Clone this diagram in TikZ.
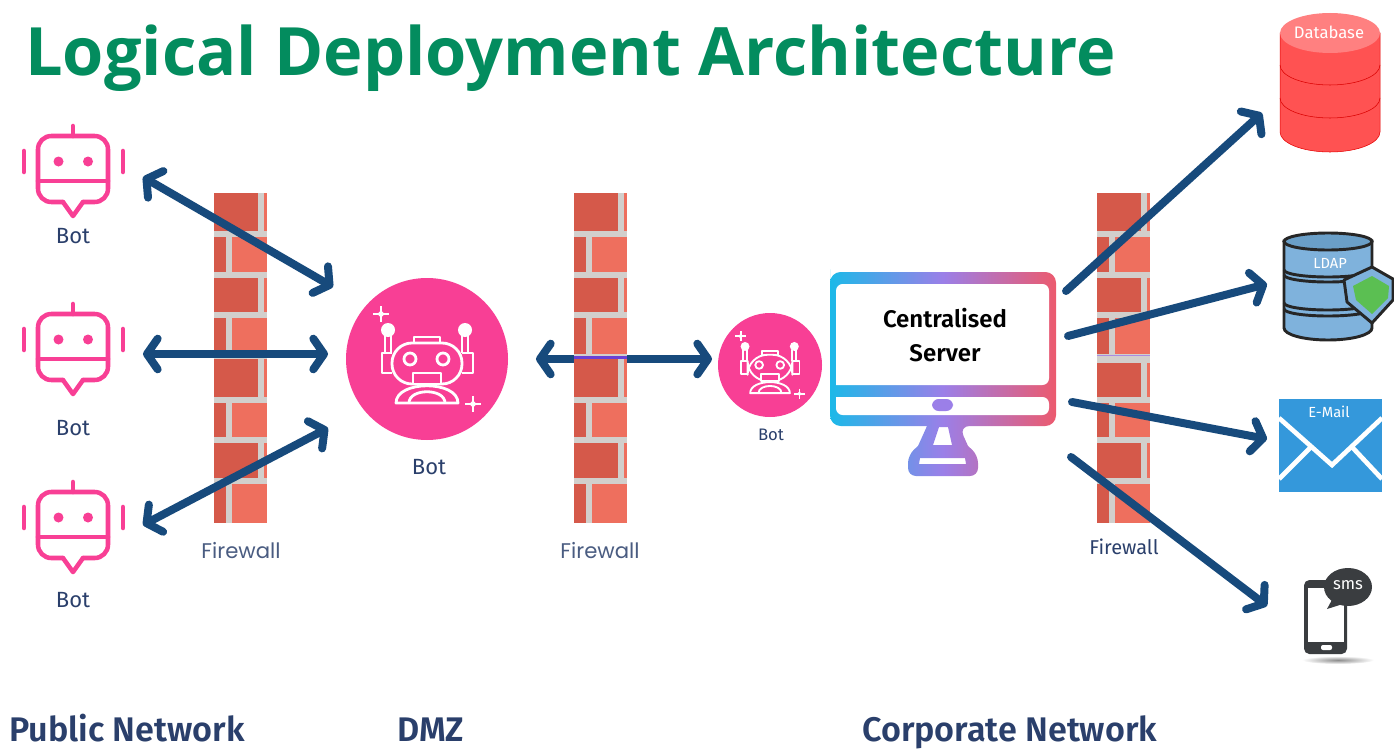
\documentclass[tikz,border=0pt]{standalone}
\usepackage{fontspec}
\usepackage{xcolor}
\usetikzlibrary{arrows.meta}
\setmainfont{Fira Sans}[BoldFont={Fira Sans SemiBold}]
\newfontfamily\titlefont{Open Sans}
\newfontfamily\wallfont{Poppins}

\definecolor{titlegreen}{HTML}{038C5E}
\definecolor{botpink}{HTML}{F83F95}
\definecolor{arrowblue}{HTML}{174A7C}
\definecolor{labelblue}{HTML}{2A3F6B}
\definecolor{wallgrey}{HTML}{D2CFCC}
\definecolor{brickdark}{HTML}{D5594A}
\definecolor{bricklight}{HTML}{EE6F5E}
\definecolor{screencyan}{HTML}{1CB9E8}
\definecolor{screenviolet}{HTML}{9B7FE8}
\definecolor{screenred}{HTML}{EC5A6E}
\definecolor{ldapblue}{HTML}{7FB2DC}
\definecolor{ldaptop}{HTML}{6A9FC8}
\definecolor{shieldgreen}{HTML}{5BBF52}
\definecolor{mailblue}{HTML}{3498DB}
\definecolor{smsgrey}{HTML}{3A3D40}

\tikzset{
    linkarrow/.style={line width=6pt, draw=arrowblue, line cap=round,
        arrows={-Straight Barb[length=8pt,width=23pt,round]}},
    bothlink/.style={linkarrow,
        arrows={Straight Barb[length=8pt,width=23pt,round]-Straight Barb[length=8pt,width=23pt,round]}},
    botline/.style={draw=botpink, line width=3.4pt, line cap=round, line join=round},
    botlabel/.style={text=labelblue, font=\fontsize{16.5}{18}\selectfont},
    walllabel/.style={text=labelblue!85, font=\wallfont\fontsize{15.9}{18}\selectfont},
    zonelabel/.style={text=labelblue, anchor=base west, inner sep=0pt, font=\bfseries\fontsize{25.6}{28}\selectfont},
    iconlabel/.style={text=white, font=\fontsize{11}{13}\selectfont}
}

% brick wall, #1 = left edge
\newcommand{\brickwall}[1]{
    \begin{scope}[shift={(#1,0)}]
        \fill[wallgrey] (0,193) rectangle (53,523);
        \foreach \rowa/\rowb in {193/231,278/312,359/397,443/478}{
            \fill[brickdark] (0,\rowa) rectangle (44,\rowb);
            \fill[bricklight] (50,\rowa) rectangle (53,\rowb);
        }
        \foreach \rowa/\rowb in {237/272,318/354,403/437,484/523}{
            \fill[brickdark] (0,\rowa) rectangle (12,\rowb);
            \fill[bricklight] (18,\rowa) rectangle (53,\rowb);
        }
    \end{scope}
}

% outline bot, #1 = shift down
\newcommand{\botoutline}[1]{
    \begin{scope}[shift={(0,#1)}]
        \draw[botline, rounded corners=10] (63,202) -- (38,202) -- (38,136) -- (108,136) -- (108,202) -- (83,202);
        \draw[botline] (63,202) -- (73,216) -- (83,202);
        \draw[botline] (38,181) -- (108,181);
        \draw[botline] (73,126) -- (73,136);
        \draw[botline] (24,151) -- (24,172);
        \draw[botline] (123,151) -- (123,172);
        \fill[botpink] (58.5,161.5) circle (5);
        \fill[botpink] (88,161.5) circle (5);
    \end{scope}
}

\newcommand{\sparkle}[2]{
    \draw (#1-8,#2) -- (#1-2,#2) (#1+2,#2) -- (#1+8,#2) (#1,#2-8) -- (#1,#2-2) (#1,#2+2) -- (#1,#2+8);
    \draw (#1,#2) circle (1.6);
}

% white robot on the pink disc, #1,#2 = centre, #3 = scale, #4 = pen
\newcommand{\robotface}[4]{
    \begin{scope}[shift={(#1,#2)}, scale=#3, draw=white, line width=#4, line join=round]
        \fill[white] (-39,-29) circle (7);
        \fill[white] (38,-29) circle (7);
        \draw (-42,-24) -- (-42,-6) (-36,-24) -- (-36,-6);
        \draw (35,-24) -- (35,-6) (41,-24) -- (41,-6);
        \draw (-35,-6) -- (-45,-6) -- (-45,14) -- (-35,14);
        \draw (35,-6) -- (46,-6) -- (46,14) -- (35,14);
        \draw (-13,-16) -- (-13,-22) -- (13,-22) -- (13,-16);
        \draw[rounded corners=15] (-35,-16) rectangle (35,25);
        \draw (-17,0) circle (6);
        \draw (16,0) circle (6);
        \draw[fill=botpink] (-14,14) rectangle (14,25);
        \draw[fill=botpink] (-31,44) .. controls (-31,21) and (31,21) .. (31,44) -- cycle;
        \draw (-18,44) .. controls (-18,29) and (18,29) .. (18,44);
        \sparkle{-46}{-45}
        \sparkle{46}{45}
    \end{scope}
}

\begin{document}
\begin{tikzpicture}[x=0.75pt, y=-0.75pt]
    \useasboundingbox (0,0) rectangle (1394,749);

    % Title
    \node[anchor=base west, inner sep=0pt, text=titlegreen, font=\titlefont\bfseries\fontsize{50}{54}\selectfont] (title) at (25,75) {Logical Deployment Architecture};

    % Arrow ends
    \coordinate (botonetip) at (143,177);
    \coordinate (bottwotip) at (143,354);
    \coordinate (botthreetip) at (143,525);
    \coordinate (hubone) at (333,287);
    \coordinate (hubtwo) at (328,354);
    \coordinate (hubthree) at (328,428);
    \coordinate (hubright) at (536,359);
    \coordinate (proxyleft) at (712,359);
    \coordinate (serverdb) at (1066,291);
    \coordinate (serverldap) at (1068,336);
    \coordinate (servermail) at (1072,402);
    \coordinate (serversms) at (1071,457);
    \coordinate (dbtip) at (1262,113);
    \coordinate (ldaptip) at (1267,284);
    \coordinate (mailtip) at (1267,439);
    \coordinate (smstip) at (1267,606);

    % Arrow behind the middle wall
    \draw[bothlink] (hubright) -- (proxyleft);

    % Walls
    \brickwall{214}
    \brickwall{574}
    \brickwall{1097}
    \fill[blue!55!violet!75] (574,355.5) rectangle (627,358.5);
    \fill[wallgrey] (1097,355) rectangle (1150,363);
    \fill[violet!50!blue!45] (1097,354.5) rectangle (1150,356);
    \node[walllabel] (firewallone) at (241,551) {Firewall};
    \node[walllabel] (firewalltwo) at (600,551) {Firewall};
    \node[botlabel, font=\fontsize{15}{17}\selectfont] (firewallthree) at (1124,547) {Firewall};

    % Public bots
    \botoutline{0}
    \botoutline{178}
    \botoutline{356}
    \node[botlabel] (botone) at (73,236) {Bot};
    \node[botlabel] (bottwo) at (73,428) {Bot};
    \node[botlabel] (botthree) at (73,600) {Bot};

    % DMZ bots
    \fill[botpink] (427,359) circle (81);
    \robotface{427}{359}{1}{2.1pt}
    \node[botlabel] (hub) at (429,467) {Bot};
    \fill[botpink] (770,365) circle (52);
    \robotface{770}{365}{0.64}{1.4pt}
    \node[botlabel, font=\fontsize{12.5}{14}\selectfont] (proxy) at (771,435) {Bot};

    % Server
    \shade[left color=screencyan, right color=screenred, middle color=screenviolet, even odd rule]
        (830,280) [rounded corners=8] -- (830,272) -- (1056,272) -- (1056,426) -- (959,426) [sharp corners]
        -- (968,446) [rounded corners=6] -- (978,455) -- (978,476) -- (908,476) -- (908,455) [sharp corners] -- (918,446)
        -- (927,426) [rounded corners=8] -- (830,426) -- cycle
        [sharp corners] (933,445) -- (939,427) -- (948,427) -- (952,445) -- cycle
        (920,458) -- (965,458) -- (966,464) -- (919,464) -- cycle;
    \fill[white, rounded corners=5] (836,385) -- (836,284) -- (1049,284) -- (1049,385) [sharp corners] -- cycle;
    \fill[white, rounded corners=5] (836,397) -- (1049,397) -- (1049,415) -- (836,415) [sharp corners] -- cycle;
    \fill[screenviolet, rounded corners=5] (932,399) rectangle (953,411);
    \node[font=\fontsize{18}{20}\selectfont\bfseries] (servera) at (945,318) {Centralised};
    \node[font=\fontsize{18}{20}\selectfont\bfseries] (serverb) at (945,353) {Server};

    % Database
    \draw[fill=red!68, draw=red!90!black] (1280,33) -- (1280,132) arc[start angle=180, end angle=0, x radius=50, y radius=20] -- (1380,33) -- cycle;
    \draw[draw=red!85!black] (1280,65) arc[start angle=180, end angle=0, x radius=50, y radius=20];
    \draw[draw=red!85!black] (1280,98) arc[start angle=180, end angle=0, x radius=50, y radius=20];
    \fill[red!50] (1330,33) ellipse (50 and 20);
    \node[iconlabel, font=\fontsize{12.5}{14}\selectfont] (database) at (1329,32) {Database};

    % LDAP
    \begin{scope}[line width=2.2pt, draw=black!85]
        \draw[fill=ldapblue] (1284,241) -- (1284,328) arc[start angle=180, end angle=0, x radius=44, y radius=12] -- (1372,241) -- cycle;
        \draw (1284,270) arc[start angle=180, end angle=0, x radius=44, y radius=7];
        \draw (1284,275) arc[start angle=180, end angle=0, x radius=44, y radius=7];
        \draw (1284,303) arc[start angle=180, end angle=0, x radius=44, y radius=7];
        \draw (1284,309) arc[start angle=180, end angle=0, x radius=44, y radius=7];
        \draw[fill=ldaptop] (1328,241.5) ellipse (44 and 8.5);
    \end{scope}
    \node[iconlabel] (ldap) at (1330,263) {LDAP};
    \draw[line width=2.2pt, draw=black!85, fill=ldapblue, line join=round] (1372,267) -- (1393,279) -- (1393,300) -- (1372,323) -- (1347,302) -- (1344,280) -- cycle;
    \fill[shieldgreen, line join=round] (1372,276) -- (1389,286) -- (1388,298) -- (1372,314) -- (1356,300) -- (1353,286) -- cycle;

    % E-Mail
    \fill[mailblue] (1279,399) rectangle (1382,492);
    \draw[white, line width=3.5pt] (1279,418) -- (1332,465) -- (1382,418);
    \draw[white, line width=3.5pt] (1279,479) -- (1311,447) (1382,479) -- (1352,447);
    \node[iconlabel] (email) at (1329,412) {E-Mail};

    % SMS
    \shade[inner color=black!45, outer color=white] (1338,660) ellipse (36 and 4);
    \fill[smsgrey, rounded corners=4] (1304,580) rectangle (1347,654);
    \fill[white] (1308,588) rectangle (1344,642);
    \fill[white, rounded corners=1.5] (1321,645) rectangle (1332,650);
    \fill[smsgrey] (1334,596) -- (1327,609) -- (1346,603) -- cycle;
    \fill[smsgrey] (1348,587) ellipse (24 and 19);
    \node[iconlabel, font=\fontsize{12.5}{14}\selectfont] (sms) at (1348,585) {sms};

    % Arrows
    \draw[bothlink] (botonetip) -- (hubone);
    \draw[bothlink] (bottwotip) -- (hubtwo);
    \draw[bothlink] (botthreetip) -- (hubthree);
    \draw[linkarrow] (serverdb) -- (dbtip);
    \draw[linkarrow] (serverldap) -- (ldaptip);
    \draw[linkarrow] (servermail) -- (mailtip);
    \draw[linkarrow] (serversms) -- (smstip);

    % Zones
    \node[zonelabel] (public) at (9,741) {Public Network};
    \node[zonelabel] (dmz) at (397,741) {DMZ};
    \node[zonelabel] (corporate) at (862,741) {Corporate Network};
\end{tikzpicture}
\end{document}
